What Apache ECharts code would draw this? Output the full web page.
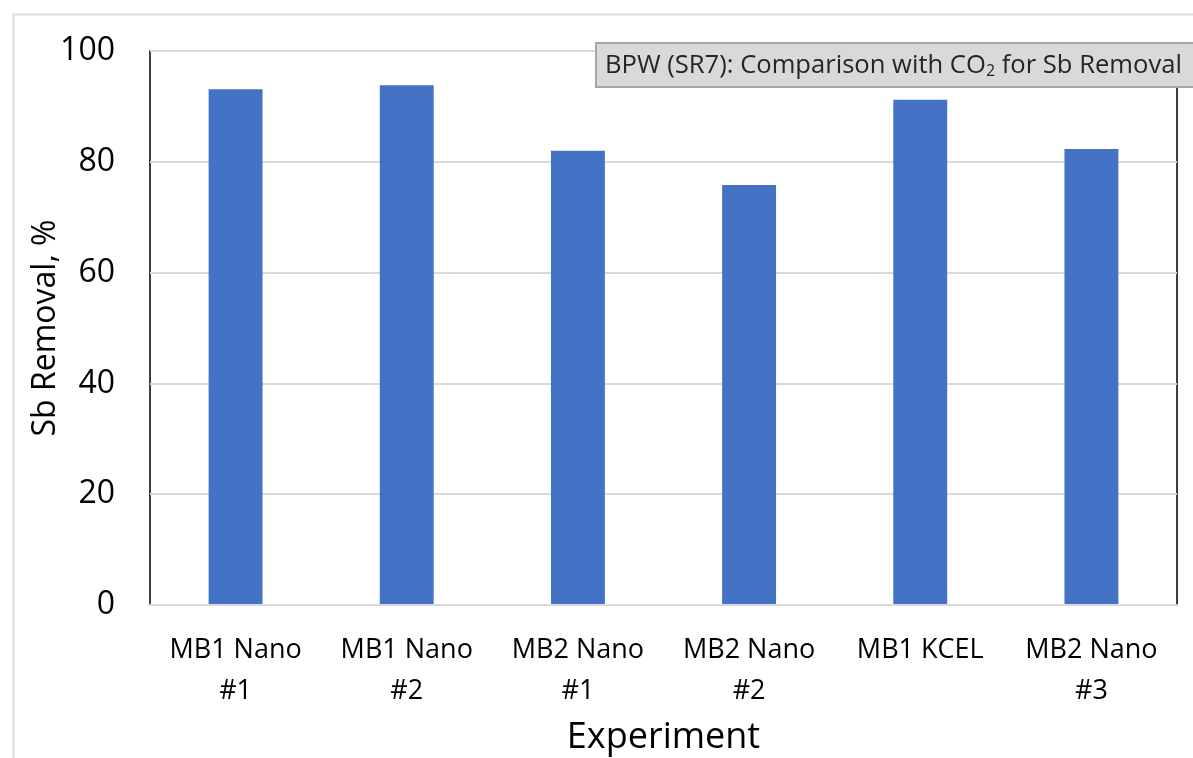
<!DOCTYPE html>
<html>
<head>
<meta charset="utf-8">
<script src="https://cdn.jsdelivr.net/npm/echarts@6/dist/echarts.min.js"></script>
<style>
  html, body { margin: 0; padding: 0; background: #fff; }
  #chart { width: 1193px; height: 758px; }
</style>
</head>
<body>
<div id="chart"></div>
<script>
// Experiments and their Sb removal (%)
const categories = ['MB1 Nano\n#1', 'MB1 Nano\n#2', 'MB2 Nano\n#1', 'MB2 Nano\n#2', 'MB1 KCEL', 'MB2 Nano\n#3'];
const sbRemoval = [93.1, 93.8, 82.0, 75.8, 91.2, 82.3];
const yTicks = { min: 0, max: 100, interval: 20 };

const FONT = '"Open Sans", "Noto Sans", sans-serif';

const chart = echarts.init(document.getElementById('chart'), null, { renderer: 'canvas' });

chart.setOption({
  backgroundColor: '#fff',
  animation: false,
  title: {
    text: 'BPW (SR7): Comparison with CO{sub|2} for Sb Removal',
    left: 596,
    top: 44,
    padding: [8, 60, 8, 9],
    backgroundColor: '#d9d9d9',
    borderColor: '#a6a6a6',
    borderWidth: 2,
    textStyle: {
      fontFamily: FONT,
      fontSize: 25.6,
      lineHeight: 27,
      fontWeight: 'normal',
      color: '#262626',
      rich: {
        sub: { fontFamily: FONT, fontSize: 16, lineHeight: 27, color: '#262626', verticalAlign: 'bottom', padding: [12, 0, 0, 0] }
      }
    },
    z: 10
  },
  graphic: [{
    type: 'rect',
    left: 11, top: 12,
    shape: { width: 1300, height: 900 },
    style: { fill: 'none', stroke: '#d9d9d9', lineWidth: 2 },
    silent: true,
    z: -1
  }],
  grid: {
    left: 150, right: 16, top: 51, bottom: 153,
    containLabel: false,
    outerBoundsMode: 'none',
    show: true,
    borderColor: '#000',
    borderWidth: 1.5,
    backgroundColor: 'transparent'
  },
  xAxis: {
    type: 'category',
    data: categories,
    name: 'Experiment',
    nameLocation: 'middle',
    nameGap: 115,
    nameMoveOverlap: false,
    nameTextStyle: { fontFamily: FONT, fontSize: 36, color: '#000' },
    axisLine: { show: true, lineStyle: { color: '#d9d9d9', width: 2 } },
    axisTick: { show: false },
    axisLabel: {
      fontFamily: FONT, fontSize: 27, color: '#000',
      lineHeight: 41, margin: 25, interval: 0
    },
    z: 5
  },
  yAxis: {
    type: 'value',
    min: yTicks.min, max: yTicks.max, interval: yTicks.interval,
    name: 'Sb Removal, %',
    nameLocation: 'middle',
    nameGap: 88,
    nameMoveOverlap: false,
    nameTextStyle: { fontFamily: FONT, fontSize: 32, color: '#000' },
    axisLine: { show: false },
    axisTick: { show: false },
    axisLabel: { fontFamily: FONT, fontSize: 32, color: '#000', margin: 35 },
    splitLine: { show: true, lineStyle: { color: '#d9d9d9', width: 2 } }
  },
  series: [{
    type: 'bar',
    data: sbRemoval,
    barWidth: '31.5%',
    itemStyle: { color: '#4472c4' }
  }]
});
</script>
</body>
</html>
